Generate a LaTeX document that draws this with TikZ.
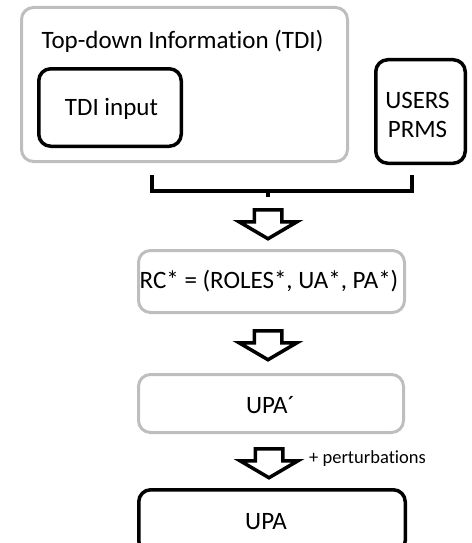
\documentclass[tikz,border=0pt]{standalone}
\usepackage{fontspec}
\setmainfont{Carlito}[Ligatures={NoCommon}]
\definecolor{boxgray}{RGB}{190,190,190}
\tikzset{
  graybox/.style={draw=boxgray, line width=3pt, rounded corners=12pt, inner sep=0pt},
  blackbox/.style={draw=black, line width=3.5pt, rounded corners=12pt, inner sep=0pt},
  txt/.style={font=\fontsize{25}{30}\selectfont, inner sep=0pt, anchor=base},
  smalltxt/.style={font=\fontsize{18.5}{22}\selectfont, inner sep=0pt, anchor=base west},
  blockarrow/.pic={\draw[line width=3.5pt, line join=miter, fill=white]
    (-13.75,0) -- (13.75,0) -- (13.75,12) -- (29,12) -- (0,29) -- (-29,12) -- (-13.75,12) -- cycle;}
}
\begin{document}
\begin{tikzpicture}[x=1pt,y=-1pt]
\useasboundingbox (0,0) rectangle (471,543);
\clip (0,0) rectangle (471,543);
% top group
\node[graybox, minimum width=326pt, minimum height=154pt] (tdi) at (184.5,84.5) {};
\node[txt] (tdilbl) at (182.5,48.5) {Top-down Information (TDI)};
\node[blackbox, minimum width=142.5pt, minimum height=77.5pt] (tdiin) at (110,107.5) {};
\node[txt] (tdiintxt) at (111.5,115) {TDI input};
\node[blackbox, minimum width=89.5pt, minimum height=103.5pt] (users) at (420.5,111.5) {};
\node[txt] (userstxt) at (417.5,108) {USERS};
\node[txt] (prmstxt) at (417.5,137.5) {PRMS};
% bracket
\coordinate (bl) at (152,175);
\coordinate (br) at (412,175);
\coordinate (bm) at (268,191);
\draw[line width=3.5pt] (bl) -- ++(0,16) -| (br);
\draw[line width=3.5pt] (bm) -- ++(0,6);
% arrow 1
\pic (a1) at (268,209.75) {blockarrow};
% RC box
\node[graybox, minimum width=266pt, minimum height=62pt] (rc) at (271.5,281.5) {};
\node[txt] (rctxt) at (269,288) {RC* = (ROLES*, UA*, PA*)};
% arrow 2
\pic (a2) at (268,330.75) {blockarrow};
% UPA' box
\node[graybox, minimum width=265pt, minimum height=58pt] (upap) at (271,403.5) {};
\node[txt] (upaptxt) at (270.5,413) {UPA´};
% arrow 3
\pic (a3) at (269,448.75) {blockarrow};
\node[smalltxt] (pert) at (309,463) {+ perturbations};
% UPA box
\node[blackbox, minimum width=266.5pt, minimum height=63pt] (upa) at (272,521.25) {};
\node[txt] (upatxt) at (266,529) {UPA};
\end{tikzpicture}
\end{document}
